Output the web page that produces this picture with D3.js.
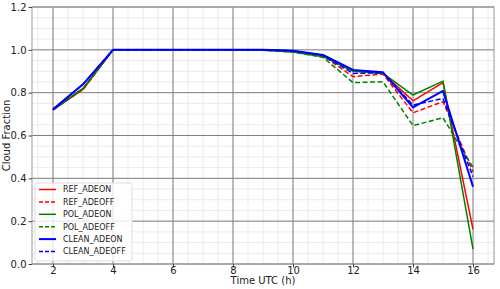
<!DOCTYPE html>
<html>
<head>
<meta charset="utf-8">
<script src="https://cdn.jsdelivr.net/npm/d3@7"></script>
<style>
  body { margin: 0; background: #fff; }
  svg text { font-family: "DejaVu Sans", sans-serif; fill: #222; }
</style>
</head>
<body>
<svg id="chart" width="500" height="289"></svg>
<script>
// data
let hours      = [2, 3, 4, 5, 6, 7, 8, 9, 10, 11, 12, 13, 14, 15, 16];
let refAdeOn   = [0.72, 0.815, 1.0, 1.0, 1.0, 1.0, 1.0, 1.0, 0.995, 0.975, 0.905, 0.89, 0.762, 0.847, 0.162];
let refAdeOff  = [0.72, 0.815, 1.0, 1.0, 1.0, 1.0, 1.0, 1.0, 0.995, 0.972, 0.875, 0.887, 0.706, 0.758, 0.431];
let polAdeOn   = [0.72, 0.82, 1.0, 1.0, 1.0, 1.0, 1.0, 0.998, 0.99, 0.968, 0.9, 0.89, 0.789, 0.854, 0.07];
let polAdeOff  = [0.72, 0.82, 1.0, 1.0, 1.0, 1.0, 1.0, 0.998, 0.99, 0.965, 0.847, 0.851, 0.646, 0.683, 0.451];
let cleanAdeOn = [0.722, 0.839, 1.0, 1.0, 1.0, 1.0, 1.0, 1.0, 0.996, 0.976, 0.906, 0.895, 0.731, 0.808, 0.361];
let cleanAdeOff= [0.722, 0.839, 1.0, 1.0, 1.0, 1.0, 1.0, 1.0, 0.996, 0.974, 0.89, 0.893, 0.742, 0.773, 0.408];
let xTicks     = [2, 4, 6, 8, 10, 12, 14, 16];
let yTicks     = [0.0, 0.2, 0.4, 0.6, 0.8, 1.0, 1.2];

let seriesList = [
    { name: "REF_ADEON",    vals: refAdeOn,    color: "#ff0000", dash: null, w: 1.5 },
    { name: "REF_ADEOFF",   vals: refAdeOff,   color: "#ff0000", dash: "5,2.5", w: 1.5 },
    { name: "POL_ADEON",    vals: polAdeOn,    color: "#008000", dash: null, w: 1.5 },
    { name: "POL_ADEOFF",   vals: polAdeOff,   color: "#008000", dash: "5,2.5", w: 1.5 },
    { name: "CLEAN_ADEON",  vals: cleanAdeOn,  color: "#0000ff", dash: null, w: 2 },
    { name: "CLEAN_ADEOFF", vals: cleanAdeOff, color: "#0000ff", dash: "5,2.5", w: 1.5 }
];

let padL = 32, padR = 494, padT = 7, padB = 264;

let x = d3.scaleLinear().domain([1.3, 16.7]).range([padL, padR]);
let y = d3.scaleLinear().domain([0, 1.2]).range([padB, padT]);

let svg = d3.select("#chart");

// minor grid
let xMinor = d3.range(1.5, 16.75, 0.5);
let yMinor = d3.range(0, 1.2001, 0.05);
svg.append("g").selectAll("line").data(xMinor).enter().append("line")
    .attr("x1", d => x(d)).attr("x2", d => x(d))
    .attr("y1", padT).attr("y2", padB)
    .attr("stroke", "#e6e6e6").attr("stroke-width", 0.8);
svg.append("g").selectAll("line").data(yMinor).enter().append("line")
    .attr("x1", padL).attr("x2", padR)
    .attr("y1", d => y(d)).attr("y2", d => y(d))
    .attr("stroke", "#e6e6e6").attr("stroke-width", 0.8);

// major grid
svg.append("g").selectAll("line").data(xTicks).enter().append("line")
    .attr("x1", d => x(d)).attr("x2", d => x(d))
    .attr("y1", padT).attr("y2", padB)
    .attr("stroke", "#808080").attr("stroke-width", 1);
svg.append("g").selectAll("line").data(yTicks).enter().append("line")
    .attr("x1", padL).attr("x2", padR)
    .attr("y1", d => y(d)).attr("y2", d => y(d))
    .attr("stroke", "#808080").attr("stroke-width", 1);

// lines
let line = d3.line().x((d, i) => x(hours[i])).y(d => y(d));
seriesList.forEach(s => {
    svg.append("path")
        .datum(s.vals)
        .attr("d", line)
        .attr("fill", "none")
        .attr("stroke", s.color)
        .attr("stroke-width", s.w)
        .attr("stroke-dasharray", s.dash)
        .attr("stroke-linejoin", "round");
});

// frame
svg.append("rect")
    .attr("x", padL).attr("y", padT)
    .attr("width", padR - padL).attr("height", padB - padT)
    .attr("fill", "none").attr("stroke", "#999").attr("stroke-width", 1);

// axes
let xAxis = svg.append("g")
    .attr("transform", "translate(0," + padB + ")")
    .call(d3.axisBottom(x).tickValues(xTicks).tickSize(3.5).tickFormat(d3.format("d")));
let yAxis = svg.append("g")
    .attr("transform", "translate(" + padL + ",0)")
    .call(d3.axisLeft(y).tickValues(yTicks).tickSize(3.5).tickPadding(2).tickFormat(d3.format(".1f")));
[xAxis, yAxis].forEach(a => {
    a.select(".domain").remove();
    a.selectAll(".tick line").attr("stroke", "#444");
    a.selectAll("text").style("font-size", "10px").attr("fill", "#222");
});
// x tick labels: baseline just under the ticks
xAxis.selectAll(".tick text").attr("y", 9.5).attr("dy", null);

svg.append("text")
    .attr("x", (padL + padR) / 2).attr("y", 284)
    .attr("text-anchor", "middle")
    .style("font-size", "10px")
    .text("Time UTC (h)");
svg.append("text")
    .attr("transform", "translate(10," + ((padT + padB) / 2) + ") rotate(-90)")
    .attr("text-anchor", "middle")
    .style("font-size", "10px")
    .text("Cloud Fraction");

// legend
let lg = svg.append("g").attr("transform", "translate(35,183)");
lg.append("rect")
    .attr("width", 97).attr("height", 78)
    .attr("rx", 2)
    .attr("fill", "#fff").attr("fill-opacity", 0.8)
    .attr("stroke", "#ddd");
seriesList.forEach((s, i) => {
    let yy = 6.5 + i * 12.4;
    lg.append("line")
        .attr("x1", 4).attr("x2", 21)
        .attr("y1", yy).attr("y2", yy)
        .attr("stroke", s.color)
        .attr("stroke-width", s.w)
        .attr("stroke-dasharray", s.dash ? "4,2" : null);
    lg.append("text")
        .attr("x", 28).attr("y", yy)
        .attr("dy", "0.35em")
        .style("font-size", "8px")
        .text(s.name);
});
</script>
</body>
</html>
